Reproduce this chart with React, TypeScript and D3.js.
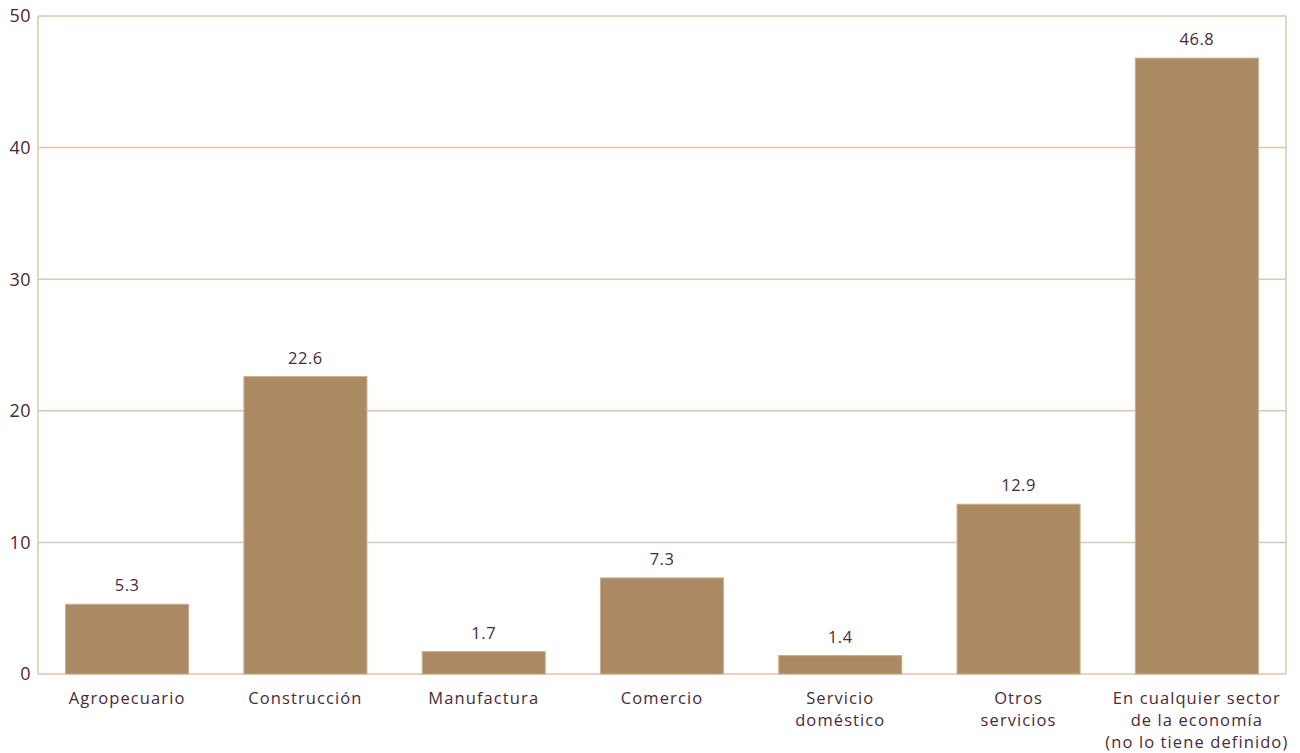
import React from "react";
import * as d3 from "d3";

const categories: string[][] = [
  ["Agropecuario"],
  ["Construcción"],
  ["Manufactura"],
  ["Comercio"],
  ["Servicio", "doméstico"],
  ["Otros", "servicios"],
  ["En cualquier sector", "de la economía", "(no lo tiene definido)"],
];
const values: number[] = [5.3, 22.6, 1.7, 7.3, 1.4, 12.9, 46.8];
const yTicks: number[] = [0, 10, 20, 30, 40, 50];

const W = 1300;
const H = 753;
const M = { left: 38, right: 14, top: 16, bottom: 79 };
const TEXT = "#4b2a37";
const GRID = "#dcc6ae";
const BAR = "#ab8a63";
const FONT = "'Open Sans', Lato, sans-serif";

export default function App() {
  const x = d3
    .scaleBand<number>()
    .domain(values.map((_, i) => i))
    .range([M.left, W - M.right])
    .paddingInner(0.31)
    .paddingOuter(0.155);
  const y = d3.scaleLinear().domain([0, 50]).range([H - M.bottom, M.top]);

  return (
    <svg width={W} height={H} style={{ position: "absolute", left: 0, top: 0 }} fontFamily={FONT}>
      {yTicks.map((t) => (
        <g key={t}>
          <line x1={M.left} x2={W - M.right} y1={y(t)} y2={y(t)} stroke={GRID} strokeWidth={1.5} />
          <text x={M.left - 7} y={y(t)} dy="0.35em" textAnchor="end" fontSize={18} fill={TEXT} letterSpacing={0.5}>
            {t}
          </text>
        </g>
      ))}
      <line x1={M.left} x2={M.left} y1={y(50)} y2={y(0)} stroke={GRID} strokeWidth={1.5} />
      <line x1={W - M.right} x2={W - M.right} y1={y(50)} y2={y(0)} stroke={GRID} strokeWidth={1.5} />
      {values.map((v, i) => (
        <g key={i}>
          <rect
            x={x(i)!}
            y={y(v)}
            width={x.bandwidth()}
            height={y(0) - y(v)}
            fill={BAR}
            stroke="#c9ad8d"
            strokeWidth={1}
          />
          <text
            x={x(i)! + x.bandwidth() / 2}
            y={y(v) - 13}
            textAnchor="middle"
            fontSize={16.5}
            fill={TEXT}
            letterSpacing={0.5}
          >
            {v.toFixed(1)}
          </text>
          {categories[i].map((line, j) => (
            <text
              key={j}
              x={x(i)! + x.bandwidth() / 2}
              y={y(0) + 30 + j * 22}
              textAnchor="middle"
              fontSize={16.5}
              fill={TEXT}
              letterSpacing={1.1}
            >
              {line}
            </text>
          ))}
        </g>
      ))}
    </svg>
  );
}
